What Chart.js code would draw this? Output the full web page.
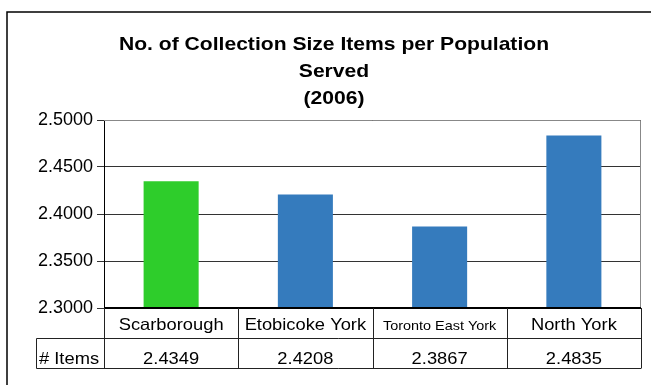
<!DOCTYPE html>
<html><head><meta charset="utf-8">
<script src="https://cdn.jsdelivr.net/npm/chart.js@4/dist/chart.umd.min.js"></script>
<style>html,body{margin:0;padding:0;background:#fff}#wrap{width:651px;height:385px;position:relative}</style>
</head><body><div id="wrap"><canvas id="c" width="651" height="385"></canvas></div>
<script>
const categories = ["Scarborough", "Etobicoke York", "Toronto East York", "North York"];
const items = [2.4349, 2.4208, 2.3867, 2.4835];
const barColors = ["#2ecd2b", "#357bbd", "#357bbd", "#357bbd"];
const titleLines = ["No. of Collection Size Items per Population", "Served", "(2006)"];
const rowLabel = "# Items";
const yMin = 2.30, yMax = 2.50, yStep = 0.05;

const FONT = "'Liberation Sans', Arial, sans-serif";
const SX = 1.11; // horizontal stretch of the reference text

function sText(ctx, txt, x, y, size, bold, align) {
  ctx.save();
  ctx.font = (bold ? "bold " : "") + size + "px " + FONT;
  ctx.fillStyle = "#000";
  ctx.textBaseline = "alphabetic";
  ctx.textAlign = align || "center";
  ctx.translate(x, y);
  ctx.scale(SX, 1);
  ctx.fillText(txt, 0, 0);
  ctx.restore();
}

const tablePlugin = {
  id: "tablePlugin",
  afterDraw(chart) {
    const ctx = chart.ctx;
    const a = chart.chartArea;
    const xs = chart.scales.x;
    const n = categories.length;
    const cw = (a.right - a.left) / n;
    ctx.save();
    // outer frame
    ctx.strokeStyle = "#000";
    ctx.lineWidth = 1.5;
    ctx.beginPath();
    ctx.moveTo(7, 400); ctx.lineTo(7, 12); ctx.lineTo(700, 12);
    ctx.stroke();
    // plot area top/right border
    ctx.strokeStyle = "#888";
    ctx.lineWidth = 1;
    ctx.beginPath();
    ctx.moveTo(a.left, a.top + 0.5); ctx.lineTo(a.right - 0.5, a.top + 0.5); ctx.lineTo(a.right - 0.5, a.bottom);
    ctx.stroke();
    // table
    const r0 = a.bottom, r1 = a.bottom + 30.5, r2 = a.bottom + 60.5;
    ctx.strokeStyle = "#000";
    ctx.lineWidth = 2;
    ctx.beginPath(); ctx.moveTo(a.left, r0); ctx.lineTo(a.right, r0); ctx.stroke();
    ctx.lineWidth = 1;
    ctx.strokeStyle = "#222";
    ctx.beginPath();
    ctx.moveTo(36.5, r1); ctx.lineTo(a.right, r1);
    ctx.moveTo(36.5, r2); ctx.lineTo(a.right, r2);
    ctx.moveTo(36.5, r1); ctx.lineTo(36.5, r2);
    for (let i = 0; i <= n; i++) {
      const xx = Math.round(a.left + cw * i) + 0.5;
      ctx.moveTo(xx, r0); ctx.lineTo(xx, r2);
    }
    ctx.stroke();
    for (let i = 0; i < n; i++) {
      const cx = xs.getPixelForValue(i);
      const small = categories[i].length > 15;
      sText(ctx, categories[i], cx, r0 + 22, small ? 13 : 16.5, false);
      sText(ctx, items[i].toFixed(4), cx, r1 + 25, 16.5, false);
    }
    sText(ctx, rowLabel, 39, r1 + 25, 16.5, false, "left");
    // title
    const tx = 334;
    sText(ctx, titleLines[0], tx, 50, 19, true);
    sText(ctx, titleLines[1], tx, 77, 19, true);
    sText(ctx, titleLines[2], tx, 104, 19, true);
    ctx.restore();
  }
};

new Chart(document.getElementById("c"), {
  type: "bar",
  data: {
    labels: categories,
    datasets: [{
      data: items,
      backgroundColor: barColors,
      borderWidth: 0,
      barPercentage: 0.41,
      categoryPercentage: 1
    }]
  },
  options: {
    responsive: false,
    animation: false,
    devicePixelRatio: 1,
    layout: { padding: { left: 0, top: 120, right: 10, bottom: 77 } },
    plugins: { legend: { display: false }, title: { display: false }, tooltip: { enabled: false } },
    scales: {
      x: { display: false },
      y: {
        min: yMin, max: yMax,
        afterFit: (s) => { s.width = 104; },
        ticks: {
          stepSize: yStep,
          callback: (v) => Number(v).toFixed(4),
          font: { family: FONT, size: 18 },
          color: "#000",
          padding: 4
        },
        grid: { color: "#333", lineWidth: 1, tickLength: 7, drawTicks: true },
        border: { color: "#000", width: 1 }
      }
    }
  },
  plugins: [tablePlugin]
});
</script>
</body></html>
